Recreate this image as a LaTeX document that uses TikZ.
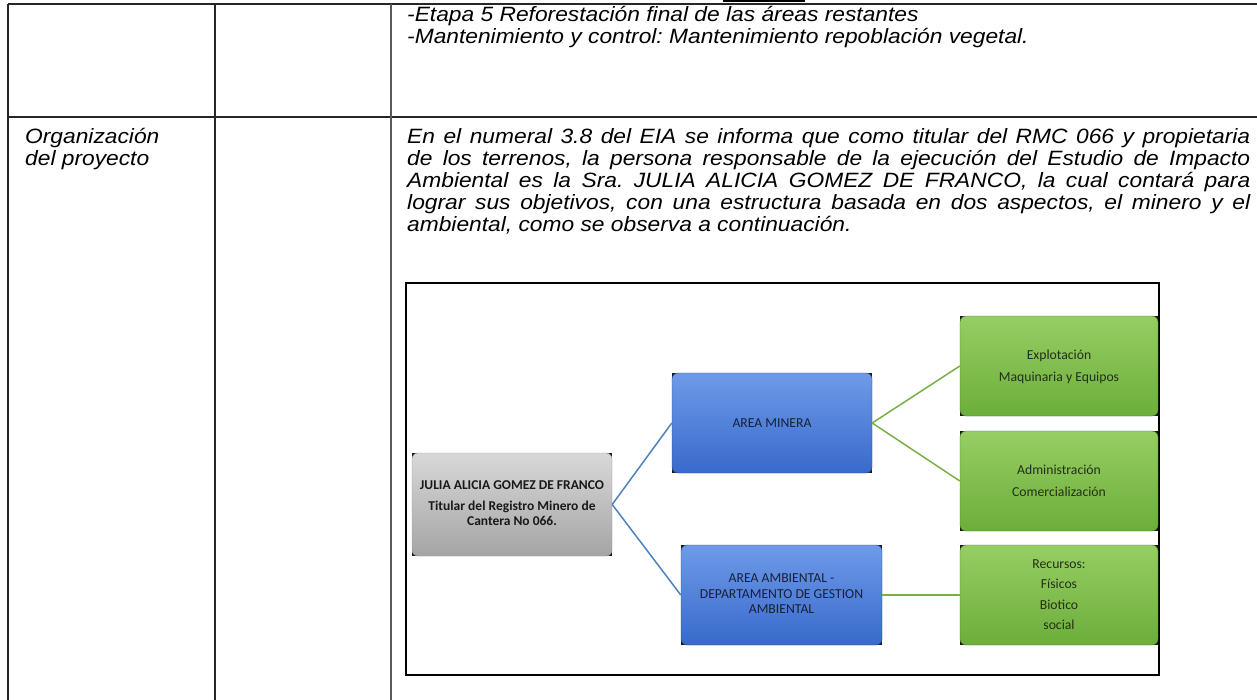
\documentclass[tikz,border=0pt]{standalone}
\usepackage{fontspec}
\setmainfont{Liberation Sans}
\newfontfamily\carl{Carlito}
\usetikzlibrary{backgrounds}
\frenchspacing
\definecolor{linblue}{HTML}{4F81BD}
\definecolor{lingreen}{HTML}{77B043}
\definecolor{bluetop}{RGB}{110,154,232}
\definecolor{bluebot}{RGB}{56,106,204}
\definecolor{greentop}{RGB}{150,206,100}
\definecolor{greenbot}{RGB}{108,174,58}
\definecolor{graytop}{RGB}{216,216,216}
\definecolor{graybot}{RGB}{164,164,164}
\definecolor{navytext}{RGB}{24,32,58}
\definecolor{greentext}{RGB}{36,46,26}
\newcommand\hs[1]{\scalebox{1.1}[1]{#1}}
\newcommand\mainfont{\fontsize{20.7}{22}\selectfont\itshape}
\newcommand\jline[1]{\hs{\makebox[766.4pt][s]{\mainfont #1}}}
\newcommand\nline[1]{\hs{\mainfont #1}}
\begin{document}
\begin{tikzpicture}[x=1pt,y=-1pt,
  tab/.style={line width=1.2pt, draw=black!85},
  txt/.style={anchor=base west, inner sep=0pt},
  orgbox/.style={rounded corners=6pt, inner sep=0pt, align=center},
  graybox/.style={orgbox, top color=graytop, bottom color=graybot, draw=black!40, line width=0.4pt, text=black!90},
  bluebox/.style={orgbox, top color=bluetop, bottom color=bluebot, draw=bluebot!70!black, line width=0.4pt, text=navytext},
  greenbox/.style={orgbox, top color=greentop, bottom color=greenbot, draw=greenbot!70!black, line width=0.4pt, text=greentext},
  bconn/.style={draw=linblue, line width=1.5pt},
  gconn/.style={draw=lingreen, line width=1.5pt}
]
\useasboundingbox (0,0) rectangle (1257,700);
% table grid
\draw[tab] (8,4) -- (1257,4);
\draw[tab] (8,117) -- (1257,117);
\draw[tab] (8,4) -- (8,700);
\draw[tab] (215,4) -- (215,700);
\draw[tab, draw=black!65, line width=2pt] (391,4) -- (391,700);
\fill[black] (723,0) rectangle (805,2.5);
% row 1 text
\node[txt] (r1a) at (407,22) {\nline{-Etapa 5 Reforestación final de las áreas restantes}};
\node[txt] (r1b) at (407,44) {\nline{-Mantenimiento y control: Mantenimiento repoblación vegetal.}};
% row 2 text
\node[txt] (c1a) at (25,144) {\nline{Organización}};
\node[txt] (c1b) at (25,166) {\nline{del proyecto}};
\node[txt] (p1) at (407,144) {\jline{En el numeral 3.8 del EIA se informa que como titular del RMC 066 y propietaria}};
\node[txt] (p2) at (407,166) {\jline{de los terrenos, la persona responsable de la ejecución del Estudio de Impacto}};
\node[txt] (p3) at (407,188) {\jline{Ambiental es la Sra. JULIA ALICIA GOMEZ DE FRANCO, la cual contará para}};
\node[txt] (p4) at (407,210) {\jline{lograr sus objetivos, con una estructura basada en dos aspectos, el minero y el}};
\node[txt] (p5) at (407,232) {\nline{ambiental, como se observa a continuación.}};
% diagram frame
\draw[line width=1.5pt, black] (406,283) rectangle (1159,675);
% org boxes
\node[graybox, minimum width=200pt, minimum height=103pt] (julia) at (512,504.5)
  {\carl\bfseries\fontsize{13.5}{15.5}\selectfont\begin{tabular}{@{}c@{}}JULIA ALICIA GOMEZ DE FRANCO\\[5pt] Titular del Registro Minero de\\ Cantera No 066.\end{tabular}};
\node[bluebox, minimum width=200pt, minimum height=100pt] (minera) at (772,423)
  {\carl\fontsize{13.7}{15.5}\selectfont AREA MINERA};
\node[bluebox, minimum width=201pt, minimum height=100pt] (ambiental) at (781.5,595)
  {\carl\fontsize{13.7}{15.5}\selectfont\begin{tabular}{@{}c@{}}AREA AMBIENTAL -\\ DEPARTAMENTO DE GESTION\\ AMBIENTAL\end{tabular}};
\node[greenbox, minimum width=198pt, minimum height=100pt] (explot) at (1059,366)
  {\carl\fontsize{13.7}{21.7}\selectfont\begin{tabular}{@{}c@{}}Explotación\\ Maquinaria y Equipos\end{tabular}};
\node[greenbox, minimum width=198pt, minimum height=100pt] (admin) at (1059,481)
  {\carl\fontsize{13.7}{21.7}\selectfont\begin{tabular}{@{}c@{}}Administración\\ Comercialización\end{tabular}};
\node[greenbox, minimum width=198pt, minimum height=100pt] (recursos) at (1059,595)
  {\carl\fontsize{13.7}{20.5}\selectfont\begin{tabular}{@{}c@{}}Recursos:\\ Físicos\\ Biotico\\ social\end{tabular}};
% black corner backs
\begin{scope}[on background layer]
  \foreach \n in {julia,minera,ambiental,explot,admin,recursos}
    \fill[black!90] (\n.south west) rectangle (\n.north east);
\end{scope}
% connectors
\draw[bconn] (julia.east) -- (minera.west);
\draw[bconn] (julia.east) -- (ambiental.west);
\draw[gconn] (minera.east) -- (explot.west);
\draw[gconn] (minera.east) -- (admin.west);
\draw[gconn] (ambiental.east) -- (recursos.west);
\end{tikzpicture}
\end{document}
